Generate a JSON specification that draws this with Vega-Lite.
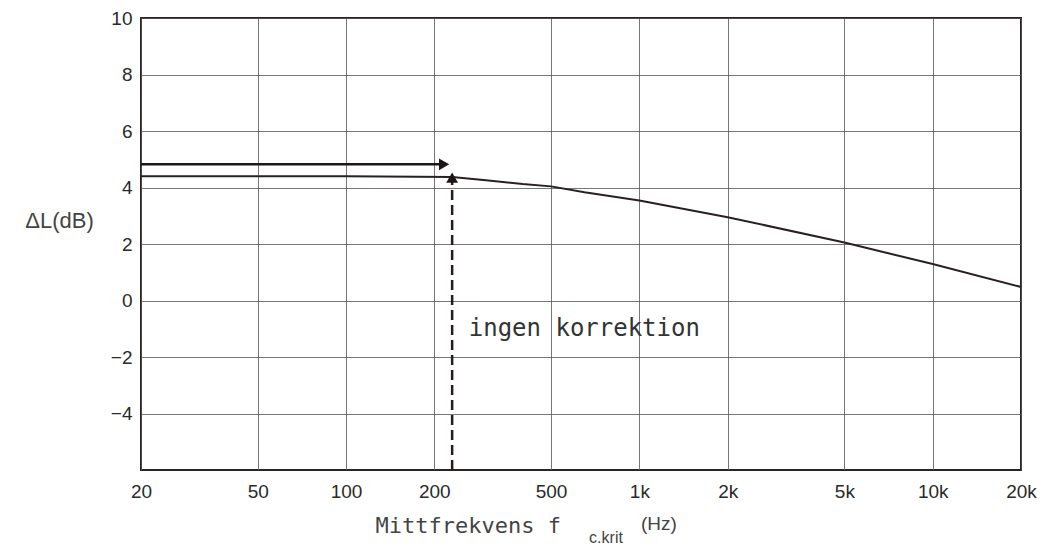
{
  "$schema": "https://vega.github.io/schema/vega-lite/v6.json",
  "autosize": "none",
  "width": 880,
  "height": 452,
  "padding": {"left": 141, "top": 18, "right": 27, "bottom": 80},
  "background": "white",
  "config": {
    "view": {"stroke": "#2b2222", "strokeWidth": 2},
    "axis": {
      "domain": false,
      "ticks": false,
      "grid": true,
      "gridColor": "#555",
      "gridWidth": 1,
      "gridOpacity": 0.8,
      "labelFont": "Liberation Sans",
      "labelFontSize": 19,
      "labelColor": "#2a2a2a",
      "titleFont": "Liberation Sans",
      "titleFontWeight": "normal",
      "titleColor": "#444"
    }
  },
  "datasets": {
    "curve": [
      {"f": 20, "dB": 4.4},
      {"f": 100, "dB": 4.4},
      {"f": 230, "dB": 4.37},
      {"f": 300, "dB": 4.26},
      {"f": 400, "dB": 4.12},
      {"f": 500, "dB": 4.04},
      {"f": 650, "dB": 3.83},
      {"f": 1000, "dB": 3.54},
      {"f": 2000, "dB": 2.95},
      {"f": 5000, "dB": 2.05},
      {"f": 10000, "dB": 1.29},
      {"f": 20000, "dB": 0.48}
    ],
    "harrow": [
      {"f": 20, "dB": 4.82},
      {"f": 212, "dB": 4.82}
    ],
    "varrow": [
      {"f": 230, "dB": -6},
      {"f": 230, "dB": 4.2}
    ],
    "heads": [
      {"f": 216, "dB": 4.82, "shape": "triangle-right"},
      {"f": 230, "dB": 4.35, "shape": "triangle-up"}
    ],
    "notes": [
      {"f": 262, "dB": -1.0, "text": "ingen korrektion"}
    ],
    "xtitle_main": [
      {"f": 126, "dB": -8.23, "text": "Mittfrekvens f"}
    ],
    "xtitle_sub": [
      {"f": 674, "dB": -8.6, "text": "c.krit"}
    ],
    "xtitle_unit": [
      {"f": 1013, "dB": -8.12, "text": "(Hz)"}
    ]
  },
  "encoding": {
    "x": {
      "field": "f",
      "type": "quantitative",
      "scale": {"type": "log", "domain": [20, 20000], "nice": false},
      "axis": {
        "title": null,
        "values": [20, 50, 100, 200, 500, 1000, 2000, 5000, 10000, 20000],
        "labelExpr": "datum.value >= 1000 ? (datum.value / 1000) + 'k' : datum.value + ''",
        "labelPadding": 12,
        "labelFlush": false
      }
    },
    "y": {
      "field": "dB",
      "type": "quantitative",
      "scale": {"domain": [-6, 10], "nice": false, "zero": false},
      "axis": {
        "values": [-4, -2, 0, 2, 4, 6, 8, 10],
        "labelPadding": 9,
        "title": "ΔL(dB)",
        "titleAngle": 0,
        "titleFontSize": 22,
        "titleAlign": "center",
        "titleBaseline": "middle",
        "titleX": -82,
        "titleY": 202
      }
    }
  },
  "layer": [
    {
      "data": {"name": "curve"},
      "mark": {"type": "line", "color": "#2a2020", "strokeWidth": 2, "clip": false}
    },
    {
      "data": {"name": "harrow"},
      "mark": {"type": "line", "color": "#1e1616", "strokeWidth": 2.5}
    },
    {
      "data": {"name": "varrow"},
      "mark": {"type": "line", "color": "#2a1a1a", "strokeWidth": 2.5, "strokeDash": [10, 5]}
    },
    {
      "data": {"name": "heads"},
      "mark": {"type": "point", "filled": true, "color": "#1e1616", "size": 140, "opacity": 1},
      "encoding": {
        "shape": {"field": "shape", "type": "nominal", "scale": null}
      }
    },
    {
      "data": {"name": "notes"},
      "mark": {"type": "text", "font": "DejaVu Sans Mono", "fontSize": 24, "align": "left", "baseline": "middle", "color": "#333"},
      "encoding": {"text": {"field": "text"}}
    },
    {
      "data": {"name": "xtitle_main"},
      "mark": {"type": "text", "font": "DejaVu Sans Mono", "fontSize": 22, "align": "left", "baseline": "alphabetic", "color": "#444"},
      "encoding": {"text": {"field": "text"}}
    },
    {
      "data": {"name": "xtitle_sub"},
      "mark": {"type": "text", "font": "Liberation Sans", "fontSize": 16, "align": "left", "baseline": "alphabetic", "color": "#444"},
      "encoding": {"text": {"field": "text"}}
    },
    {
      "data": {"name": "xtitle_unit"},
      "mark": {"type": "text", "font": "Liberation Sans", "fontSize": 19, "align": "left", "baseline": "alphabetic", "color": "#444"},
      "encoding": {"text": {"field": "text"}}
    }
  ]
}
